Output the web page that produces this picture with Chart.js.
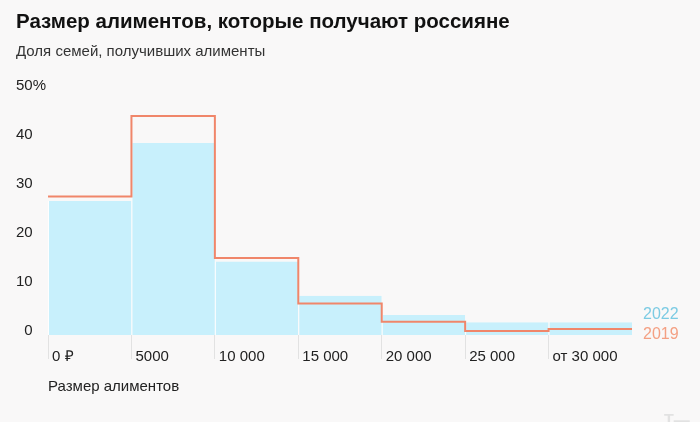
<!DOCTYPE html>
<html>
<head>
<meta charset="utf-8">
<script src="https://cdn.jsdelivr.net/npm/chart.js@4"></script>
<style>
  html, body { margin: 0; padding: 0; background: #f9f8f8; }
  #wrap { width: 700px; height: 422px; }
</style>
</head>
<body>
<div id="wrap"><canvas id="myChart" width="700" height="422"></canvas></div>
<script>
// Bins of alimony size, share of families (%)
const binLabels = ['0 ₽', '5000', '10 000', '15 000', '20 000', '25 000', 'от 30 000'];
const values2022 = [27.3, 39.1, 15.0, 8.0, 4.1, 2.6, 2.6];
const values2019 = [28.2, 44.6, 15.7, 6.4, 2.7, 0.8, 1.2];
const yTickLabels = ['\u20070', '10', '20', '30', '40', '50%'];
const seriesNames = ['2022', '2019'];

const fontFamily = '"Liberation Sans", Arial, sans-serif';
const colBar = '#c8f0fc';
const colLine = '#f0866a';

// bars sit in the middle of each bin, the step line runs over the bin edges
const barData = values2022.map((v, i) => ({ x: i + 0.5, y: v }));
const lineData = values2019.map((v, i) => ({ x: i, y: v }));
lineData.push({ x: values2019.length, y: values2019[values2019.length - 1] });  // close the last bin

// Text legend to the right of the plot
const sideLegend = {
    id: 'sideLegend',
    afterDraw(chart) {
        const { ctx, chartArea } = chart;
        ctx.save();
        ctx.font = '16px ' + fontFamily;
        ctx.textBaseline = 'middle';
        ctx.textAlign = 'left';
        ctx.fillStyle = '#7ccbe3';
        ctx.fillText(seriesNames[0], chartArea.right + 11, chartArea.bottom - 20);
        ctx.fillStyle = '#f4a083';
        ctx.fillText(seriesNames[1], chartArea.right + 11, chartArea.bottom);
        // logo mark in the corner
        ctx.font = 'bold 16px ' + fontFamily;
        ctx.fillStyle = '#e2e2e2';
        ctx.textBaseline = 'alphabetic';
        ctx.fillText('Т—', 664, 426);
        ctx.restore();
    }
};

var ctx = document.getElementById('myChart').getContext('2d');
var myChart = new Chart(ctx, {
    data: {
        datasets: [
            {
                type: 'line',
                label: seriesNames[1],
                data: lineData,
                stepped: true,
                borderColor: colLine,
                borderWidth: 2,
                pointRadius: 0,
                fill: false,
                order: 0
            },
            {
                type: 'bar',
                label: seriesNames[0],
                data: barData,
                backgroundColor: colBar,
                borderColor: 'rgba(255,255,255,0.85)',
                borderWidth: { left: 1, right: 0, top: 0, bottom: 0 },
                borderSkipped: false,
                inflateAmount: 0,
                categoryPercentage: 1,
                barPercentage: 1,
                order: 1
            }
        ]
    },
    options: {
        responsive: false,
        animation: false,
        layout: { padding: { left: 16, right: 68, top: 0, bottom: 22 } },
        plugins: {
            legend: { display: false },
            tooltip: { enabled: false },
            title: {
                display: true,
                text: 'Размер алиментов, которые получают россияне',
                align: 'start',
                color: '#111',
                font: { family: fontFamily, size: 20.5, weight: 'bold' },
                padding: { top: 10, bottom: 8 }
            },
            subtitle: {
                display: true,
                text: 'Доля семей, получивших алименты',
                align: 'start',
                color: '#333',
                font: { family: fontFamily, size: 15 },
                padding: { top: 0, bottom: 29 }
            }
        },
        scales: {
            x: {
                type: 'linear',
                min: 0,
                max: binLabels.length,
                offset: false,
                border: { display: false },
                grid: {
                    offset: false,
                    drawOnChartArea: false,
                    drawTicks: true,
                    tickLength: 24,
                    color: (c) => (c.tick && c.tick.value < binLabels.length ? '#e2e2e2' : 'rgba(0,0,0,0)')
                },
                ticks: {
                    stepSize: 1,
                    autoSkip: false,
                    maxRotation: 0,
                    align: 'start',
                    labelOffset: 4,
                    padding: -11,
                    color: '#222',
                    font: { family: fontFamily, size: 15 },
                    callback: (v) => binLabels[v] || ''
                },
                title: {
                    display: true,
                    text: 'Размер алиментов',
                    align: 'start',
                    color: '#222',
                    font: { family: fontFamily, size: 15 },
                    padding: { top: 23, bottom: 4 }
                }
            },
            y: {
                min: 0,
                max: 50,
                border: { display: false },
                grid: { display: false, drawTicks: false },
                ticks: {
                    stepSize: 10,
                    crossAlign: 'far',
                    padding: 1,
                    labelOffset: -4,
                    color: '#222',
                    font: { family: fontFamily, size: 15 },
                    callback: (v) => yTickLabels[v / 10]
                }
            }
        }
    },
    plugins: [sideLegend]
});
</script>
</body>
</html>
